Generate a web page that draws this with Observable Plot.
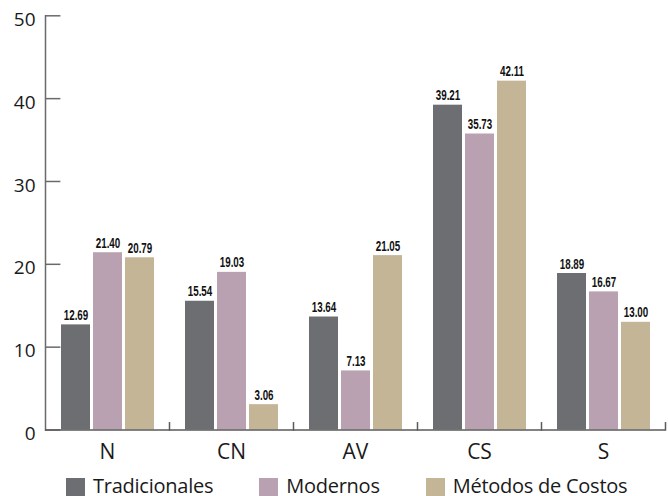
<!DOCTYPE html>
<html>
<head>
<meta charset="utf-8">
<script src="https://cdn.jsdelivr.net/npm/d3@7"></script>
<script src="https://cdn.jsdelivr.net/npm/@observablehq/plot@0.6"></script>
<style>
  html, body { margin: 0; padding: 0; background: #fff; }
  #chart { width: 668px; }
  svg { display: block; }
  .legend {
    display: flex; align-items: flex-start; gap: 46px;
    padding-left: 66px; padding-top: 8px; height: 26px;
    font-family: "Open Sans", sans-serif; font-size: 20px; color: #1a1a1a;
    letter-spacing: -0.25px;
  }
  .legend .item { display: flex; align-items: flex-start; gap: 8px; }
  .legend .sw { width: 19px; height: 19px; flex: none; }
  .legend .lab { line-height: 1; margin-top: -2px; white-space: nowrap; }
</style>
</head>
<body>
<div id="chart"></div>
<script>
// Categories along the x axis
const categories = ["N", "CN", "AV", "CS", "S"];
// Series names and colours
const series = ["Tradicionales", "Modernos", "Métodos de Costos"];
const seriesColors = ["#6d6e72", "#b9a1b1", "#c4b597"];
// Values per series, in category order
const tradicionales = [12.69, 15.54, 13.64, 39.21, 18.89];
const modernos = [21.40, 19.03, 7.13, 35.73, 16.67];
const metodosCostos = [20.79, 3.06, 21.05, 42.11, 13.00];
// Y axis ticks
const yTicks = [0, 10, 20, 30, 40, 50];

const valuesBySeries = [tradicionales, modernos, metodosCostos];
const data = [];
categories.forEach((cat, i) => {
  series.forEach((s, j) => {
    data.push({cat, series: s, value: valuesBySeries[j][i]});
  });
});

const axisGrayY = "#6a6a6a";
const axisGrayX = "#5a5a5a";
const font = "Open Sans, sans-serif";

const chart = Plot.plot({
  width: 668,
  height: 470,
  marginTop: 15.3,
  marginBottom: 40.5,
  marginLeft: 43,
  marginRight: 2,
  style: {fontFamily: font, color: "#1a1a1a", background: "#fff"},
  fx: {domain: categories, paddingInner: 0, paddingOuter: 0, axis: null, label: null},
  x: {domain: series, paddingInner: 0.1, paddingOuter: 0.434, axis: null, label: null},
  y: {domain: [0, 50], axis: null, label: null},
  color: {domain: series, range: seriesColors},
  marks: [
    // inward y ticks in the first group (drawn under the bars)
    Plot.ruleY(yTicks, {
      facetAnchor: "left", insetRight: 108.6,
      stroke: axisGrayY, strokeWidth: 1.5
    }),
    // y tick labels
    Plot.axisY(yTicks, {tickSize: 0, tickPadding: 10, fontSize: 19, dy: 4, label: null, fill: "#1a1a1a"}),
    // y axis line
    Plot.frame({anchor: "left", facetAnchor: "left", stroke: axisGrayY, strokeWidth: 1.5}),
    // category boundary ticks
    Plot.frame({anchor: "right", insetTop: 407, stroke: axisGrayX, strokeWidth: 1.5}),
    Plot.barY(data, {fx: "cat", x: "series", y: "value", fill: "series"}),
    Plot.ruleY([0], {stroke: axisGrayX, strokeWidth: 1.5}),
    Plot.text(data, {
      fx: "cat", x: "series", y: "value",
      text: d => d.value.toFixed(2),
      lineAnchor: "bottom", dy: -5,
      fontFamily: "Liberation Sans, Arial, sans-serif",
      fontWeight: "bold", fontSize: 14, fill: "#111"
    }),
    Plot.axisFx({anchor: "bottom", tickSize: 0, tickPadding: 14, fontSize: 21, label: null, fill: "#1a1a1a"})
  ]
});

// Condensed value labels: squeeze each label horizontally about its anchor
d3.select(chart).selectAll('g[aria-label="text"] text').each(function () {
  const t = this.getAttribute("transform") || "";
  this.setAttribute("transform", t + " scale(0.7,1)");
});

const root = document.getElementById("chart");
root.appendChild(chart);

// Legend below the chart
const legend = document.createElement("div");
legend.className = "legend";
series.forEach((s, j) => {
  const item = document.createElement("div");
  item.className = "item";
  const sw = document.createElement("div");
  sw.className = "sw";
  sw.style.background = seriesColors[j];
  const lab = document.createElement("span");
  lab.className = "lab";
  lab.textContent = s;
  item.appendChild(sw);
  item.appendChild(lab);
  legend.appendChild(item);
});
root.appendChild(legend);
</script>
</body>
</html>
